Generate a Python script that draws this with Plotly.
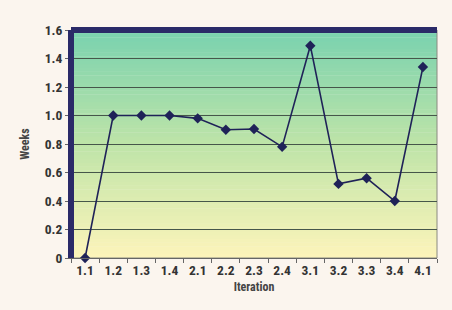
import plotly.graph_objects as go

iterations = ["1.1", "1.2", "1.3", "1.4", "2.1", "2.2", "2.3", "2.4", "3.1", "3.2", "3.3", "3.4", "4.1"]
weeks = [0.0, 1.0, 1.0, 1.0, 0.98, 0.90, 0.905, 0.78, 1.49, 0.52, 0.56, 0.40, 1.34]
y_ticks = [0, 0.2, 0.4, 0.6, 0.8, 1.0, 1.2, 1.4, 1.6]
y_tick_labels = ["0", "0.2", "0.4", "0.6", "0.8", "1.0", "1.2", "1.4", "1.6"]

FONT = "Liberation Sans Narrow, Roboto Condensed, Arial Narrow, Liberation Sans, Arial"

# vertical gradient: green (top) -> yellow (bottom)
top = (122, 210, 175)
mid = (190, 228, 168)
bot = (252, 244, 186)
def lerp(a, b, t):
    return tuple(int(round(a[i] + (b[i] - a[i]) * t)) for i in range(3))

shapes = []
n = 60
for i in range(n):
    t = i / (n - 1)  # 0 at bottom
    if t < 0.5:
        c = lerp(bot, mid, t / 0.5)
    else:
        c = lerp(mid, top, (t - 0.5) / 0.5)
    shapes.append(dict(type="rect", xref="x domain", yref="y domain",
                       x0=0, x1=1, y0=i / n, y1=(i + 1) / n + 0.002,
                       fillcolor="rgb(%d,%d,%d)" % c, line=dict(width=0),
                       layer="below"))
# plot area border
shapes.append(dict(type="rect", xref="x domain", yref="y domain", x0=0, x1=1, y0=0, y1=1,
                   line=dict(color="#8a8a80", width=1), layer="below"))
# navy frame (left and top)
shapes.append(dict(type="line", xref="paper", yref="paper", x0=0, x1=0, y0=0, y1=1,
                   line=dict(color="#2a2a68", width=6)))
shapes.append(dict(type="line", xref="paper", yref="paper", x0=0, x1=1, y0=1, y1=1,
                   line=dict(color="#2a2a68", width=6)))

fig = go.Figure()
fig.add_trace(go.Scatter(
    x=iterations, y=weeks, mode="lines+markers",
    line=dict(color="#1f2258", width=1.6),
    marker=dict(symbol="diamond", size=8, color="#1f2258"),
    cliponaxis=False, showlegend=False))

fig.update_layout(
    width=452, height=310,
    margin=dict(l=71, r=15, t=30, b=52, pad=0),
    paper_bgcolor="#fbf5ee",
    plot_bgcolor="rgba(0,0,0,0)",
    shapes=shapes,
    font=dict(family=FONT, color="#333333"),
)
fig.update_xaxes(
    type="category", tickson="boundaries", ticks="outside", ticklen=4,
    tickcolor="#666666", showgrid=False, showline=True, linecolor="#666666",
    tickfont=dict(family=FONT, size=13.5, color="#333333", weight="bold"),
    title=dict(text="Iteration", font=dict(family=FONT, size=12, color="#444444", weight="bold"), standoff=5),
    range=[-0.5, len(iterations) - 0.5], fixedrange=True,
)
fig.update_yaxes(
    range=[0, 1.6], tickvals=y_ticks, ticktext=y_tick_labels,
    ticks="outside", ticklen=5, tickcolor="#666666",
    showgrid=True, gridcolor="#46564a", gridwidth=1.2,
    showline=True, linecolor="#666666", zeroline=False,
    tickfont=dict(family=FONT, size=13.5, color="#333333", weight="bold"),
    title=dict(text="Weeks", font=dict(family=FONT, size=12, color="#444444", weight="bold"), standoff=12),
    fixedrange=True,
)

fig.write_html("out.html")
